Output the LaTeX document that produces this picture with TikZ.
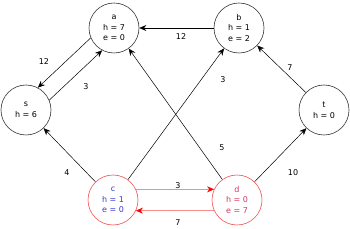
\documentclass[tikz,border=0pt]{standalone}
\usepackage{fontspec}
\setmainfont{DejaVu Sans}
\usetikzlibrary{arrows.meta}
\definecolor{vred}{HTML}{F05050}
\definecolor{cblue}{HTML}{3838C8}
\definecolor{dred}{HTML}{D03860}
\begin{document}
\begin{tikzpicture}[x=1pt,y=-1pt,
 vert/.style={circle,draw=black!80,line width=0.6pt,minimum size=50pt,inner sep=0pt,align=center,font=\fontsize{8}{10.5}\selectfont},
 redvert/.style={vert,draw=vred},
 edge/.style={-{Stealth[length=7pt,width=6pt]},line width=0.5pt},
 redge/.style={edge,draw=vred,-{Stealth[length=7pt,width=6pt,color=red]}},
 lbl/.style={font=\fontsize{8}{9}\selectfont,inner sep=0pt}]
\useasboundingbox (0,0) rectangle (350,229);
\node[vert] (a) at (114,28) {a\\h = 7\\e = 0};
\node[vert] (b) at (239,28) {b\\h = 1\\e = 2};
\node[vert] (s) at (26,110) {s\\h = 6};
\node[vert] (t) at (324,110) {t\\h = 0};
\node[redvert,text=cblue] (c) at (113,200) {c\\h = 1\\e = 0};
\node[redvert,text=dred] (d) at (237,200) {d\\h = 0\\e = 7};
\draw[edge] (b) -- (a);
\draw[edge] (a.203.1) -- (s.62.9);
\draw[edge] (s.23.1) -- (a.242.9);
\draw[edge] (c) -- (s);
\draw[edge] (c) -- (b);
\draw[edge] (d) -- (a);
\draw[edge] (t) -- (b);
\draw[edge] (d) -- (t);
\draw[redge] (c.24.8) -- (d.155.2);
\draw[redge] (d.204.8) -- (c.335.2);
\node[lbl] (l1) at (181,37) {12};
\node[lbl] (l2) at (44,62) {12};
\node[lbl] (l3) at (86,87) {3};
\node[lbl] (l4) at (223,80) {3};
\node[lbl] (l5) at (290,68) {7};
\node[lbl] (l6) at (222,148) {5};
\node[lbl] (l7) at (67,173) {4};
\node[lbl] (l8) at (293,173) {10};
\node[lbl] (l9) at (178,186) {3};
\node[lbl] (l10) at (178,223) {7};
\end{tikzpicture}
\end{document}
